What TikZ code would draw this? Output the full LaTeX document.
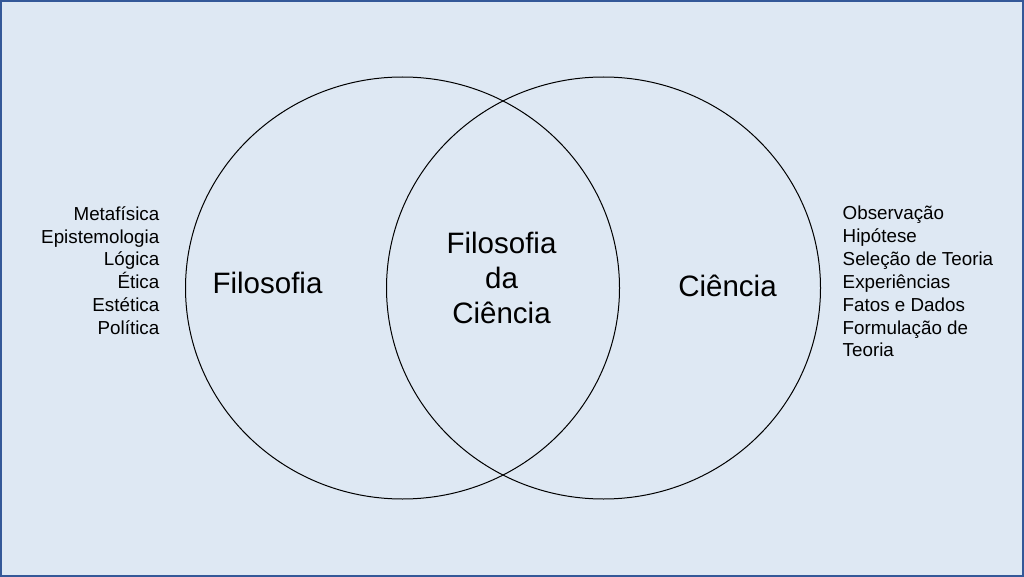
\documentclass[tikz,border=0pt]{standalone}
\usepackage{fontspec}
\setmainfont{Liberation Sans}
\usetikzlibrary{shapes.geometric}
\definecolor{bgblue}{RGB}{222,232,243}
\definecolor{frameblue}{RGB}{52,88,152}
\tikzset{
  venn/.style={draw=black,line width=1pt},
  bigtext/.style={font=\fontsize{29.5}{35}\selectfont,inner sep=0pt,anchor=base},
  listL/.style={font=\fontsize{18.8}{22.6}\selectfont,inner sep=0pt,anchor=base east},
  listR/.style={font=\fontsize{18.8}{22.6}\selectfont,inner sep=0pt,anchor=base west}
}
\begin{document}
\begin{tikzpicture}[x=1pt,y=-1pt]
\useasboundingbox (0,0) rectangle (1024,577);
\fill[bgblue] (0,0) rectangle (1024,577);
\draw[frameblue,line width=1.6pt] (0.8,0.8) rectangle (1023.2,576.2);
\node[venn,ellipse,minimum width=434pt,minimum height=422pt,inner sep=0pt] (left) at (402.5,288) {};
\node[venn,ellipse,minimum width=434pt,minimum height=422pt,inner sep=0pt] (right) at (603.5,288) {};
\node[bigtext] (fil) at (267.5,293.5) {Filosofia};
\node[bigtext] (cie) at (727.5,296) {Ciência};
\node[bigtext] (m1) at (501.5,253) {Filosofia};
\node[bigtext] (m2) at (501.5,288) {da};
\node[bigtext] (m3) at (501.5,323) {Ciência};
\foreach \t [count=\i from 0] in {Metafísica,Epistemologia,Lógica,Ética,Estética,Política}
  \node[listL] (l\i) at (159.5,220.5+22.7*\i) {\t};
\foreach \t [count=\i from 0] in {Observação,Hipótese,Seleção de Teoria,Experiências,Fatos e Dados,Formulação de,Teoria}
  \node[listR] (r\i) at (842.5,219.8+22.85*\i) {\t};
\end{tikzpicture}
\end{document}
